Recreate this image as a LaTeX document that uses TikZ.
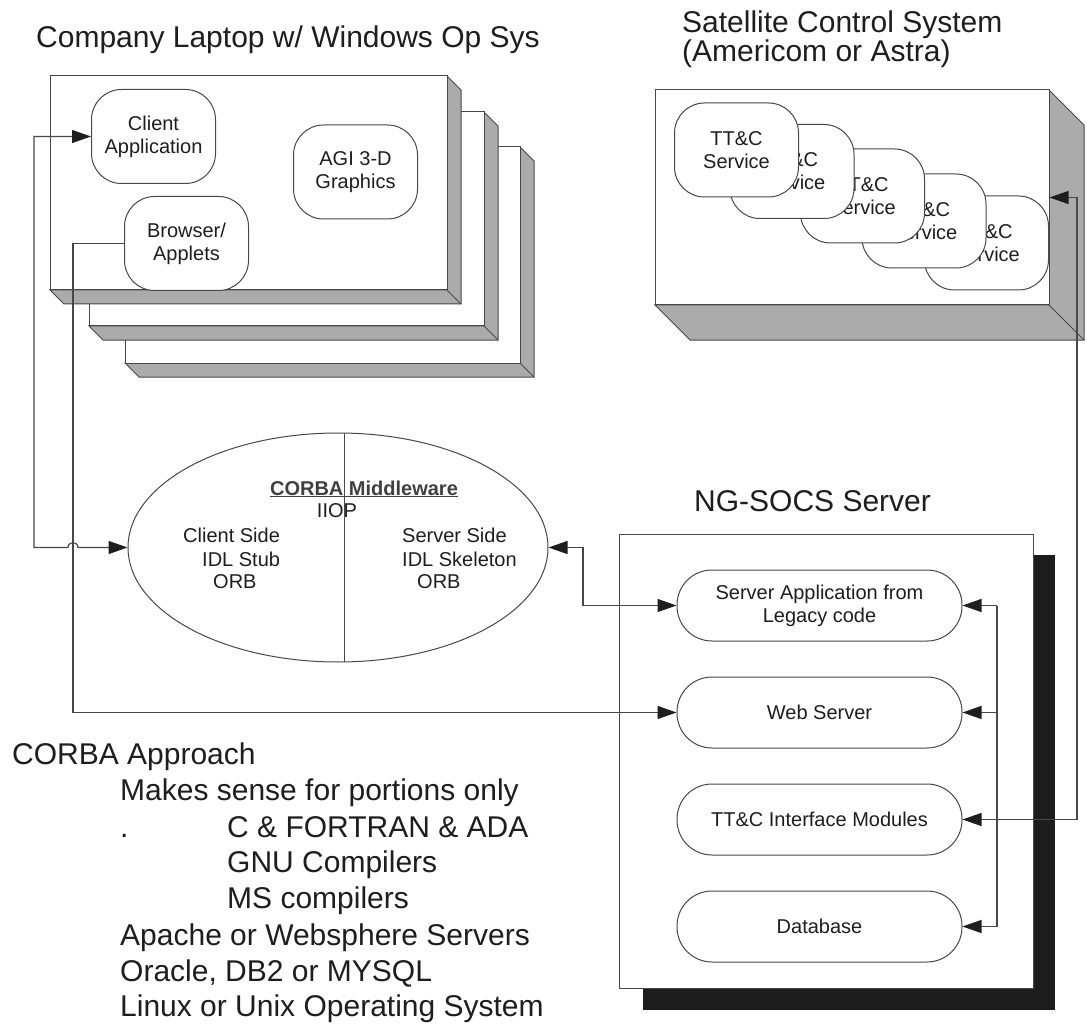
\documentclass[tikz,border=0pt]{standalone}
\usepackage{fontspec}
\setmainfont{Liberation Sans}
\usetikzlibrary{shapes.geometric,arrows.meta,fit}
\definecolor{ln}{HTML}{484848}
\definecolor{tx}{HTML}{1E1E1E}
\definecolor{ext}{HTML}{ABABAB}
\definecolor{shd}{HTML}{1C1C1C}
\newcommand{\boxthreed}[6]{%
  \path[fill=ext,draw=ln,line width=1pt] (#3,#2) -- (#3+#5,#2+#5) -- (#3+#5,#4+#5) -- (#1+#5,#4+#5) -- (#1,#4) -- (#3,#4) -- cycle;
  \draw[ln,line width=1pt] (#3,#4) -- (#3+#5,#4+#5);
  \node[fit={(#1,#2) (#3,#4)}, inner sep=0pt, draw=ln, line width=1pt, fill=white] (#6) {};
}
\tikzset{
  lbl/.style={font=\fontsize{20}{23}\selectfont, text=tx, align=center},
  rbox/.style={draw=ln, line width=1pt, fill=white, rounded corners=30pt, minimum width=124pt, minimum height=94pt, inner sep=0pt, lbl},
  pill/.style={draw=ln, line width=1pt, fill=white, rounded corners=35pt, minimum width=285pt, minimum height=71pt, inner sep=0pt, lbl},
  conn/.style={draw=ln, line width=1.1pt},
  arr/.style={conn, -{Triangle[length=19pt,width=13pt,color=tx]}},
  biarr/.style={conn, {Triangle[length=19pt,width=13pt,color=tx]}-{Triangle[length=19pt,width=13pt,color=tx]}},
  big/.style={font=\fontsize{30}{30}\selectfont, text=tx, inner sep=0pt},
  small/.style={font=\fontsize{20}{23}\selectfont, text=tx, inner sep=0pt},
}
\begin{document}
\begin{tikzpicture}[x=1pt,y=-1pt]
\useasboundingbox (0,0) rectangle (1087,1024);
\fill[white] (0,0) rectangle (1087,1024);

% titles
\node[big,anchor=base west] (t1) at (36,48) {Company Laptop w/ Windows Op Sys};
\node[big,anchor=base west] (t2) at (682,33) {Satellite Control System};
\node[big,anchor=base west] (t3) at (682,62) {(Americom or Astra)};
\node[big,anchor=base west] (t4) at (694,511) {NG-SOCS Server};

% laptop stack
\boxthreed{125}{147}{520}{363}{14}{lap3}
\boxthreed{89}{112}{484}{326}{14}{lap2}
\boxthreed{50}{76}{447}{290}{14}{lap1}
\node[rbox] (client) at (153.5,136.5) {Client\\Application};
\node[rbox] (agi) at (355.5,172) {AGI 3-D\\Graphics};
\node[rbox] (browser) at (186.5,243.5) {Browser/\\Applets};

% satellite system
\boxthreed{655}{90}{1049}{305}{35}{sat}
\node[rbox] (s5) at (986.5,243) {TT\&C\\Service};
\node[rbox] (s4) at (924,221) {TT\&C\\Service};
\node[rbox] (s3) at (862.5,196) {TT\&C\\Service};
\node[rbox] (s2) at (792,171.5) {TT\&C\\Service};
\node[rbox] (s1) at (736.5,150) {TT\&C\\Service};

% CORBA ellipse
\node[ellipse, draw=ln, line width=1pt, minimum width=420pt, minimum height=229pt, inner sep=0pt] (corba) at (338,547.5) {};
\draw[ln, line width=1pt] (344,433.2) -- (344,661.8);
\node[font=\bfseries\fontsize{20}{20}\selectfont, text=tx!85, inner sep=0pt, anchor=base] (cmw) at (364,495) {\underline{CORBA Middleware}};
\node[small, anchor=base] (iiop) at (337,517) {IIOP};
\node[small, anchor=base west] (cs1) at (183,542) {Client Side};
\node[small, anchor=base west] (cs2) at (202,566) {IDL Stub};
\node[small, anchor=base west] (cs3) at (213,588) {ORB};
\node[small, anchor=base west] (ss1) at (402,542) {Server Side};
\node[small, anchor=base west] (ss2) at (402,566) {IDL Skeleton};
\node[small, anchor=base west] (ss3) at (417,588) {ORB};

% server
\fill[shd] (643,555) rectangle (1055,1010);
\node[fit={(619,534) (1033,988)}, inner sep=0pt, draw=ln, line width=1pt, fill=white] (srv) {};
\node[pill] (app) at (819.5,605.5) {Server Application from\\Legacy code};
\node[pill] (web) at (819.5,712.5) {Web Server};
\node[pill] (ttc) at (819.5,819.5) {TT\&C Interface Modules};
\node[pill] (db) at (819.5,926.5) {Database};

% connectors
\coordinate (b1) at (997,605.5);
\coordinate (b2) at (997,712.5);
\coordinate (b4) at (997,926.5);
\draw[conn] (b1) -- (b4);
\draw[arr] (b1) -- (app.east);
\draw[arr] (b2) -- (web.east);
\draw[arr] (b4) -- (db.east);
\draw[biarr] (sat.east) -- (1077,197.5) -- (1077,819.5) -- (ttc.east);

\draw[biarr] (client.west) -- (34,136.5) -- (34,547.5) -- (68,547.5) .. controls (68,541) and (78,541) .. (78,547.5) -- (corba.west);
\draw[arr] (browser.west) -- (73,243.5) -- (73,712.5) -- (web.west);
\draw[biarr] (corba.east) -- (583,547.5) -- (583,605.5) -- (app.west);

% notes
\node[big,anchor=base west] (n1) at (12,764) {CORBA Approach};
\node[big,anchor=base west] (n2) at (120,800) {Makes sense for portions only};
\node[big,anchor=base west] (n3a) at (120,837) {.};
\node[big,anchor=base west] (n3) at (227,837) {C \& FORTRAN \& ADA};
\node[big,anchor=base west] (n4) at (227,872) {GNU Compilers};
\node[big,anchor=base west] (n5) at (227,908) {MS compilers};
\node[big,anchor=base west] (n6) at (120,945) {Apache or Websphere Servers};
\node[big,anchor=base west] (n7) at (120,981) {Oracle, DB2 or MYSQL};
\node[big,anchor=base west] (n8) at (120,1016) {Linux or Unix Operating System};
\end{tikzpicture}
\end{document}
